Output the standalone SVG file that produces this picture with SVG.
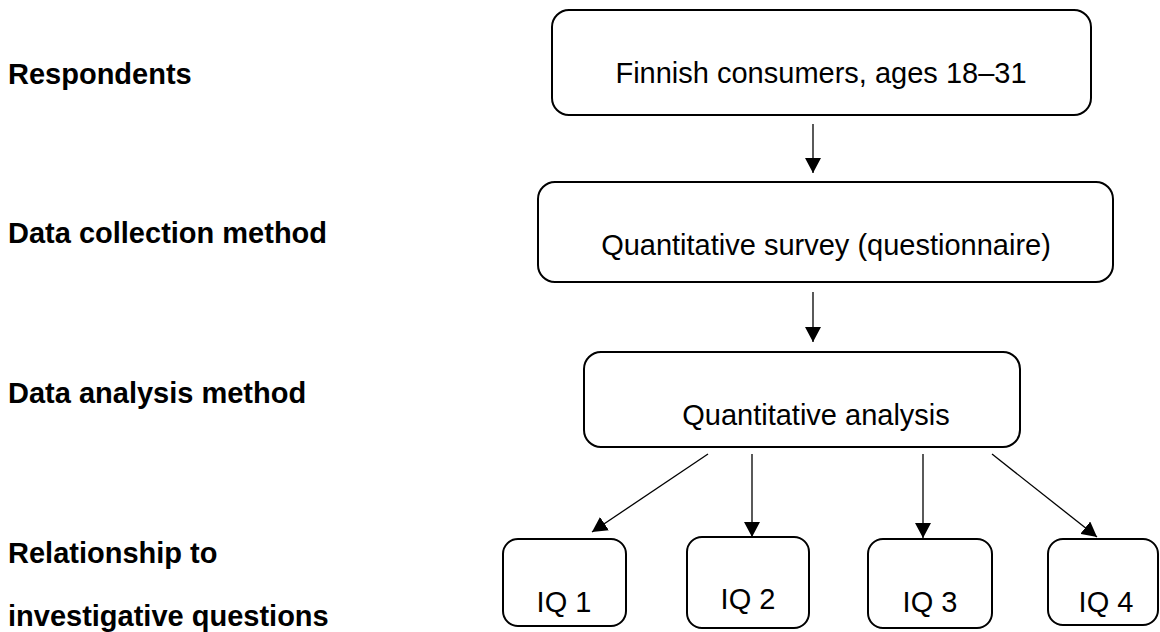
<svg xmlns="http://www.w3.org/2000/svg" width="1160" height="632" viewBox="0 0 1160 632">
  <style>
    .label { font-family: "Liberation Sans", Arial, sans-serif; font-size: 29px; font-weight: bold; fill: #000; }
    .box { fill: #fff; stroke: #000; stroke-width: 2; }
    .txt { font-family: "Liberation Sans", Arial, sans-serif; font-size: 29px; fill: #000; text-anchor: middle; }
    .conn { stroke: #000; stroke-width: 1.3; fill: none; marker-end: url(#arrow); }
  </style>
  <defs>
    <marker id="arrow" viewBox="0 0 15 16" refX="15" refY="8" markerWidth="15" markerHeight="16" markerUnits="userSpaceOnUse" orient="auto">
      <path d="M0,0 L15,8 L0,16 z" fill="#000"/>
    </marker>
  </defs>
  <rect width="1160" height="632" fill="#fff"/>

  <!-- row headings on the left -->
  <g id="headings">
    <text class="label" x="8" y="84">Respondents</text>
    <text class="label" x="8" y="243">Data collection method</text>
    <text class="label" x="8" y="403">Data analysis method</text>
    <text class="label" x="8" y="563">Relationship to</text>
    <text class="label" x="8" y="626">investigative questions</text>
  </g>

  <g id="respondents">
    <rect class="box" x="552" y="10" width="539" height="105" rx="17"/>
    <text class="txt" x="821" y="83">Finnish consumers, ages 18–31</text>
  </g>

  <g id="collection">
    <rect class="box" x="538" y="182" width="575" height="100" rx="17"/>
    <text class="txt" x="826" y="255">Quantitative survey (questionnaire)</text>
  </g>

  <g id="analysis">
    <rect class="box" x="584" y="352" width="436" height="95" rx="17"/>
    <text class="txt" x="816" y="425">Quantitative analysis</text>
  </g>

  <g id="iq1">
    <rect class="box" x="503" y="539" width="123" height="87" rx="15"/>
    <text class="txt" x="564" y="612">IQ 1</text>
  </g>
  <g id="iq2">
    <rect class="box" x="687" y="537" width="122" height="91" rx="15"/>
    <text class="txt" x="748" y="609">IQ 2</text>
  </g>
  <g id="iq3">
    <rect class="box" x="868" y="539" width="124" height="89" rx="15"/>
    <text class="txt" x="930" y="612">IQ 3</text>
  </g>
  <g id="iq4">
    <rect class="box" x="1048" y="539" width="110" height="86" rx="15"/>
    <text class="txt" x="1106" y="612">IQ 4</text>
  </g>

  <g id="connectors">
    <line class="conn" x1="813" y1="124" x2="813" y2="173"/>
    <line class="conn" x1="813" y1="292" x2="813" y2="342"/>
    <line class="conn" x1="708" y1="454" x2="592" y2="532"/>
    <line class="conn" x1="752" y1="454" x2="752" y2="537"/>
    <line class="conn" x1="923" y1="454" x2="923" y2="538"/>
    <line class="conn" x1="992" y1="454" x2="1097" y2="537"/>
  </g>
</svg>
